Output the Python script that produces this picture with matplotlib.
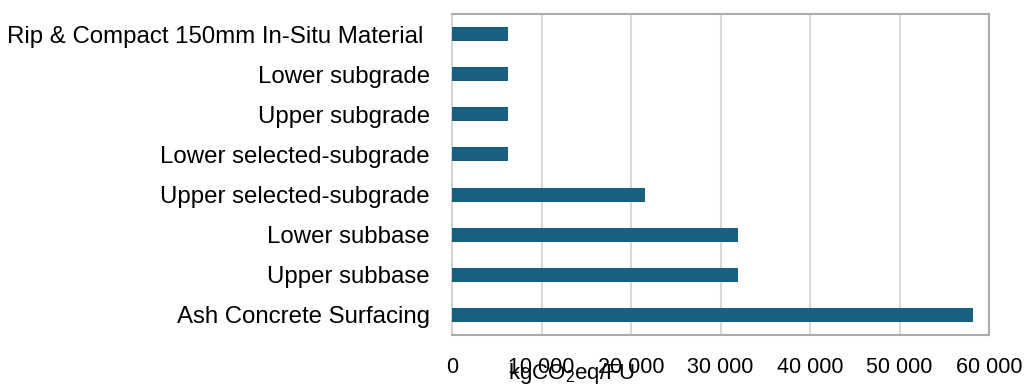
import matplotlib.pyplot as plt

plt.rcParams['font.family'] = ['Liberation Sans', 'DejaVu Sans']
plt.rcParams['mathtext.default'] = 'regular'

# Data (top to bottom in the chart)
layers = ["Rip & Compact 150mm In-Situ Material ", "Lower subgrade", "Upper subgrade",
          "Lower selected-subgrade", "Upper selected-subgrade", "Lower subbase",
          "Upper subbase", "Ash Concrete Surfacing"]
emissions = [6260, 6260, 6260, 6260, 21530, 31900, 31900, 58200]
xticks = [0, 10000, 20000, 30000, 40000, 50000, 60000]
xtick_labels = ["0", "10 000", "20 000", "30 000", "40 000", "50 000", "60 000"]

fig = plt.figure(figsize=(10.31, 3.85), dpi=100)
ax = fig.add_axes([452 / 1031, 1 - 335 / 385, (989 - 452) / 1031, (335 - 14) / 385])

ax.barh(layers, emissions, height=0.35, color="#17607F", zorder=3)
ax.invert_yaxis()  # first item at the top
ax.set_xlim(0, 60000)
ax.set_ylim(7.5, -0.5)

ax.set_xticks(xticks)
ax.set_xticklabels(xtick_labels)
ax.tick_params(axis="y", length=0, pad=16, labelsize=17.3)
ax.tick_params(axis="x", length=0, pad=16, labelsize=15.5)

ax.grid(axis="x", color="#d9d9d9", linewidth=1.5, zorder=0)
for side in ["top", "right", "bottom"]:
    ax.spines[side].set_color("#ababab")
    ax.spines[side].set_linewidth(1.5)
ax.spines["left"].set_color("#d4d4d4")
ax.spines["left"].set_linewidth(1.5)

# axis label sits low and left, overlapping the tick labels as in the original
fig.text(508 / 1031, 1 - 379 / 385, "kgCO$_2$eq/FU", fontsize=16, va="baseline", ha="left")

fig.savefig("out.png", dpi=100)
